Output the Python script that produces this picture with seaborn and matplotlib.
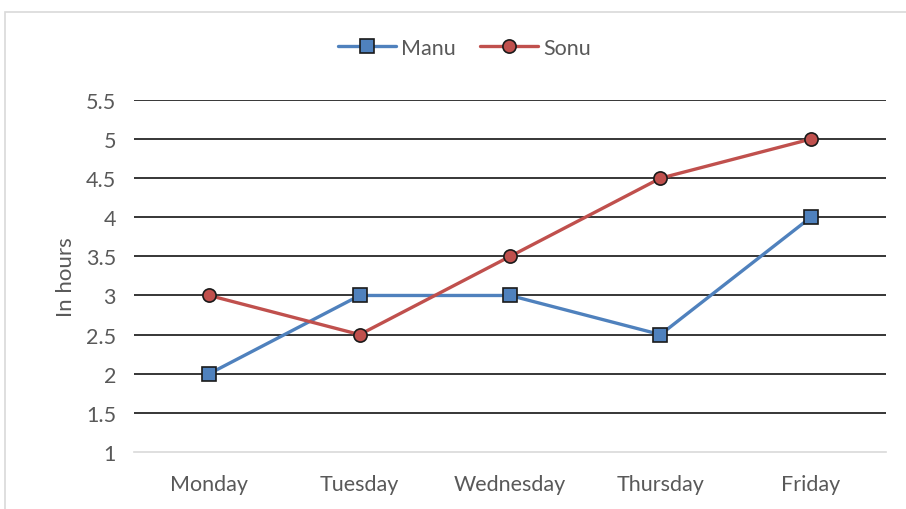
import matplotlib
matplotlib.use("Agg")
import matplotlib.pyplot as plt
import seaborn as sns
import pandas as pd
from matplotlib.patches import Rectangle

days = ["Monday", "Tuesday", "Wednesday", "Thursday", "Friday"]
manu = [2, 3, 3, 2.5, 4]
sonu = [3, 2.5, 3.5, 4.5, 5]
yticks = [1, 1.5, 2, 2.5, 3, 3.5, 4, 4.5, 5, 5.5]

sns.set_theme(style="white")
plt.rcParams["font.family"] = ["Lato", "DejaVu Sans"]

fig = plt.figure(figsize=(9.06, 5.10), dpi=100)
ax = fig.add_axes([0.148, 0.112, 0.830, 0.690])

# outer chart border (light gray)
fig.patches.append(Rectangle((5/906, -0.1), 1.2, 1 - 13/510 + 0.1, transform=fig.transFigure,
                             fill=False, edgecolor="#D9D9D9", linewidth=1.2))

df = pd.DataFrame({"day": days + days,
                   "hours": manu + sonu,
                   "who": ["Manu"] * len(days) + ["Sonu"] * len(days)})
df["x"] = list(range(len(days))) * 2

colors = {"Manu": "#4F81BD", "Sonu": "#C0504D"}
sns.lineplot(data=df, x="x", y="hours", hue="who", style="who",
             palette=colors, markers={"Manu": "s", "Sonu": "o"}, dashes=False,
             markersize=9.5, markeredgecolor="#1a1a1a", markeredgewidth=1.2,
             linewidth=2.4, ax=ax, zorder=3)

ax.set_xlim(-0.5, len(days) - 0.5)
ax.set_ylim(1, 5.5)
ax.set_xticks(range(len(days)))
ax.set_xticklabels(days)
ax.set_yticks(yticks)
ax.set_yticklabels([f"{v:g}" for v in yticks])
for y in yticks[1:]:
    ax.axhline(y, color="#262626", linewidth=1.3, zorder=1)
for s in ["top", "right", "left"]:
    ax.spines[s].set_visible(False)
ax.spines["bottom"].set_color("#D9D9D9")
ax.spines["bottom"].set_linewidth(1.2)
ax.tick_params(axis="both", length=0, labelsize=15.5, labelcolor="#595959")
ax.tick_params(axis="y", pad=13)
ax.tick_params(axis="x", pad=16)
ax.set_xlabel("")
ax.set_ylabel("In hours", fontsize=16, color="#595959", labelpad=7)

h, l = ax.get_legend_handles_labels()
leg = ax.legend(h, l, loc="center", bbox_to_anchor=(0.439, 1.148), ncol=2, frameon=False,
                fontsize=15.5, handlelength=2.7, columnspacing=1.1, handletextpad=0.25)
for t in leg.get_texts():
    t.set_color("#595959")

fig.savefig("out.png", dpi=100)
